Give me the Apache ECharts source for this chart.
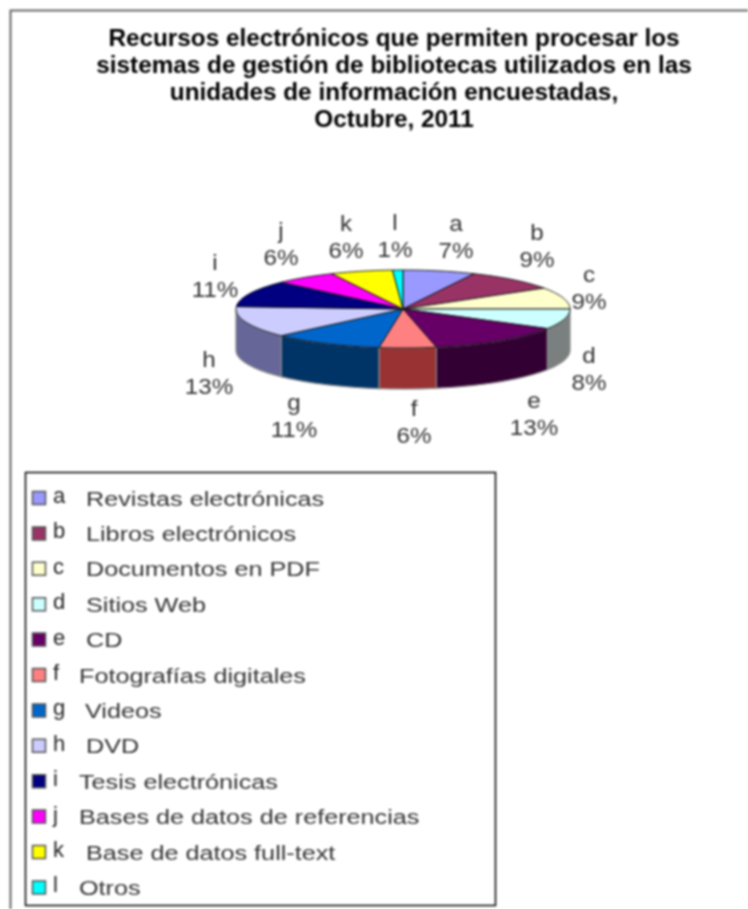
<!DOCTYPE html>
<html><head><meta charset="utf-8">
<style>html,body{margin:0;padding:0;background:#fff}#c{width:748px;height:909px;filter:blur(0.8px)}</style>
<script src="https://cdn.jsdelivr.net/npm/echarts@6/dist/echarts.min.js"></script>
</head><body><div id="c"></div>
<script>
const letters = ['a','b','c','d','e','f','g','h','i','j','k','l'];
const names = ['Revistas electrónicas','Libros electrónicos','Documentos en PDF','Sitios Web','CD','Fotografías digitales','Videos','DVD','Tesis electrónicas','Bases de datos de referencias','Base de datos full-text','Otros'];
const values = [7,9,9,8.4,13.4,5.5,10.7,13,11,6,6,1];
const titleText = 'Recursos electrónicos que permiten procesar los\nsistemas de gestión de bibliotecas utilizados en las\nunidades de información encuestadas,\nOctubre, 2011';
const colors = ['#9999ff','#993366','#ffffcc','#ccffff','#660066','#ff8080','#0066cc','#ccccff','#000080','#ff00ff','#ffff00','#00ffff'];
const sideColors = ['#4d4d80','#4d1a33','#808066','#7a8080','#330033','#993333','#003366','#666699','#000040','#800080','#808000','#008080'];

// layout only
const labelCentres = [[456,238],[537,247],[589,289],[589,370],[534,415],[414,423],[294,417],[209,374],[215,277],[281,245],[346,238],[395,237]];
const legendTextX = [86,86,86,86,86,79,85,86,79,79,86,79];
const DEPTH = 41;
const total = values.reduce((a,b)=>a+b,0);
const starts = []; values.reduce((s,v,i)=>{starts[i]=s;return s+v;},0);
const table = values.map((v,i)=>[starts[i],v,i]);

function pts(api,a0,a1){
  const out=[]; const n=Math.max(2,Math.ceil((a1-a0)/(Math.PI/90)));
  for(let k=0;k<=n;k++){const t=a0+(a1-a0)*k/n; out.push(api.coord([Math.sin(t),Math.cos(t)]));}
  return out;
}
const toAng = p => p/total*2*Math.PI;

const option = {
  animation:false,
  backgroundColor:'#fff',
  title:{text:titleText,left:389,top:21,textAlign:'center',
    textStyle:{fontFamily:'Liberation Sans',fontWeight:'bold',fontSize:24.3,lineHeight:27,color:'#000'}},
  grid:{left:236,width:334,top:270,height:78},
  xAxis:{type:'value',min:-1,max:1,show:false},
  yAxis:{type:'value',min:-1,max:1,show:false},
  graphic:[
    {type:'polyline',shape:{points:[[10.5,909],[10.5,10.5],[748,10.5]]},style:{stroke:'#666',lineWidth:2,fill:null}},
    {type:'rect',shape:{x:25.5,y:472.5,width:470,height:433},style:{fill:'#fff',stroke:'#000',lineWidth:1.5},z:-1}
  ],
  series:[
    {type:'custom',coordinateSystem:'cartesian2d',silent:true,data:table,z:2,
     encode:{x:0,y:1},clip:false,
     renderItem(params,api){
       const i=api.value(2);
       const a0=Math.max(toAng(api.value(0)),Math.PI/2);
       const a1=Math.min(toAng(api.value(0)+api.value(1)),Math.PI*1.5);
       if(a1<=a0) return {type:'group',children:[]};
       const top=pts(api,a0,a1);
       const bot=top.slice().reverse().map(p=>[p[0],p[1]+DEPTH]);
       return {type:'polygon',shape:{points:top.concat(bot)},style:{fill:sideColors[i],stroke:'#888',lineWidth:1.2}};
     }},
    {type:'custom',coordinateSystem:'cartesian2d',silent:true,data:table,z:3,
     encode:{x:0,y:1},clip:false,
     renderItem(params,api){
       const i=api.value(2);
       const s=api.value(0),v=api.value(1);
       const pp=[api.coord([0,0])].concat(pts(api,toAng(s),toAng(s+v)));
       const c=labelCentres[i];
       const txt=(t,y)=>({type:'text',x:c[0],y:y,scaleX:1.1,style:{text:t,x:0,y:0,font:'22px "Liberation Sans"',fill:'#333',align:'center',verticalAlign:'middle'}});
       return {type:'group',children:[
         {type:'polygon',shape:{points:pp},style:{fill:colors[i],stroke:'#111',lineWidth:0.9}},
         txt(letters[i],c[1]-13),
         txt(Math.round(v)+'%',c[1]+14)
       ]};
     }},
    {type:'custom',coordinateSystem:'none',silent:true,data:letters.map((l,i)=>[i]),z:4,clip:false,
     renderItem(params,api){
       const i=api.value(0);
       const y=498+i*35.4;
       return {type:'group',children:[
         {type:'rect',shape:{x:32.5,y:y-6.5,width:13,height:13},style:{fill:colors[i],stroke:'#555',lineWidth:1.5}},
         {type:'text',x:53,y:y-1,style:{text:letters[i],x:0,y:0,font:'22px "Liberation Sans"',fill:'#222',align:'left',verticalAlign:'middle'}},
         {type:'text',x:legendTextX[i],y:y+2,scaleX:1.26,style:{text:names[i],x:0,y:0,font:'20px "Liberation Sans"',fill:'#333',align:'left',verticalAlign:'middle'}}
       ]};
     }}
  ]
};
const chart=echarts.init(document.getElementById('c'),null,{renderer:'canvas'});
chart.setOption(option);
</script></body></html>
